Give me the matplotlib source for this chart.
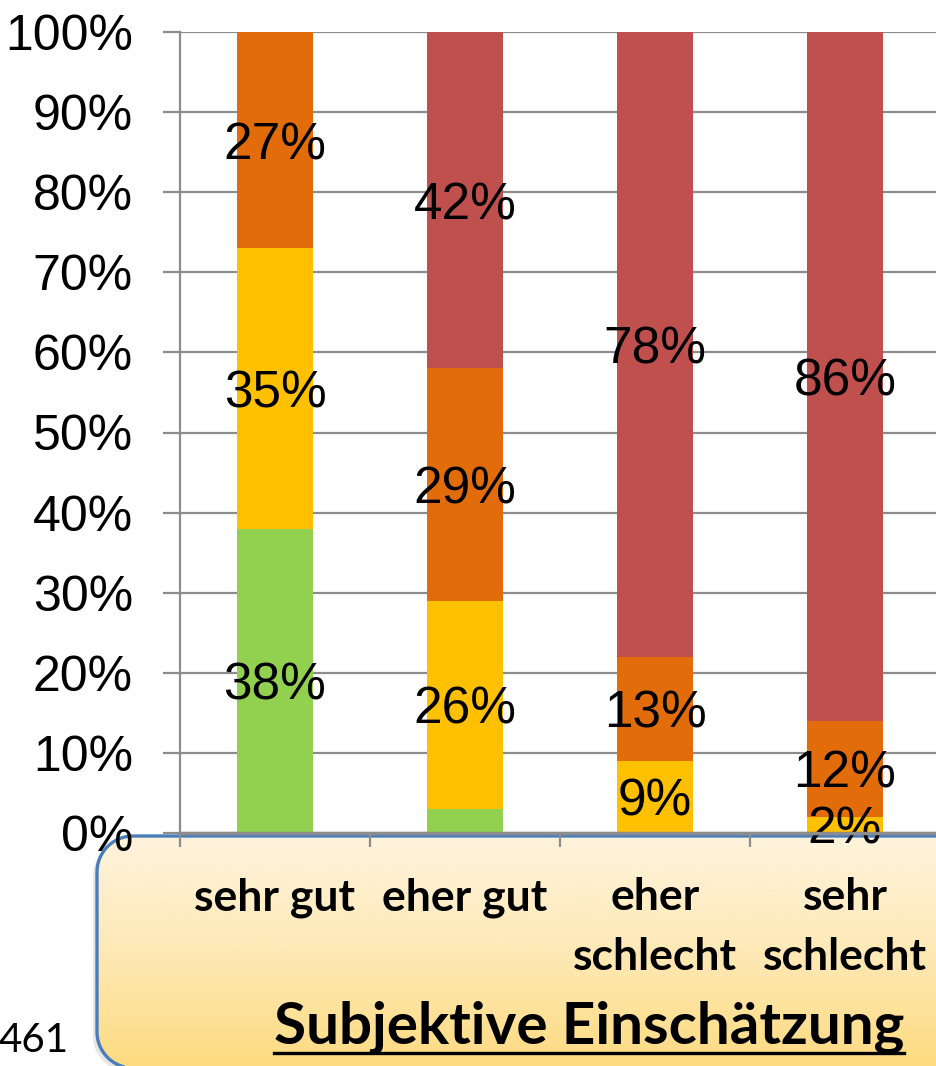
import numpy as np
import matplotlib
matplotlib.use("Agg")
import matplotlib.pyplot as plt
from matplotlib.patches import PathPatch
from matplotlib.path import Path
from matplotlib.colors import LinearSegmentedColormap
from matplotlib.lines import Line2D

categories = ["sehr gut", "eher gut", "eher\nschlecht", "sehr\nschlecht"]
green = [38, 3, 0, 0]
yellow = [35, 26, 9, 2]
orange = [27, 29, 13, 12]
red = [0, 42, 78, 86]
series = [green, yellow, orange, red]
colors = ["#92D050", "#FFC000", "#E36C0A", "#C0504D"]
# which segments carry a value label
show_label = [[True, False, False, False],
              [True, True, True, True],
              [True, True, True, True],
              [False, True, True, True]]
yticks = np.arange(0, 101, 10)
ytick_labels = [f"{v}%" for v in yticks]
title = "Subjektive Einschätzung"
page_no = "461"

W, H = 936, 1066


def rounded_rect(x0, y0, x1, y1, r, n=20):
    # corners in pixel space (y grows downward)
    pts = []
    for cx, cy, a0 in [(x0 + r, y0 + r, 180), (x1 - r, y0 + r, 270),
                       (x1 - r, y1 - r, 0), (x0 + r, y1 - r, 90)]:
        a = np.radians(np.linspace(a0, a0 + 90, n))
        pts += list(zip(cx + r * np.cos(a), cy + r * np.sin(a)))
    pts.append(pts[0])
    codes = [Path.MOVETO] + [Path.LINETO] * (len(pts) - 2) + [Path.CLOSEPOLY]
    return Path(pts, codes)


fig = plt.figure(figsize=(W / 100, H / 100), dpi=100)

# background layer in pixel coordinates for the rounded gradient box
bg = fig.add_axes([0, 0, 1, 1], zorder=0)
bg.set_autoscale_on(False)
bg.set_xlim(0, W)
bg.set_ylim(H, 0)
bg.axis("off")

box = PathPatch(rounded_rect(97, 836, 1050, 1068, 36), facecolor="none",
                edgecolor="#4A7EBB", linewidth=2.4, zorder=3)
shadow = PathPatch(rounded_rect(93, 840, 1046, 1072, 36), facecolor="#cfcfcf",
                   edgecolor="none", alpha=0.5, zorder=1)
bg.add_patch(shadow)
bg.add_patch(box)
cmap = LinearSegmentedColormap.from_list("box", ["#FEF3DD", "#FEE9B6", "#FDDB80"])
grad = np.linspace(0, 1, 256).reshape(-1, 1)
im = bg.imshow(grad, cmap=cmap, aspect="auto", extent=[97, 1050, 1068, 836], zorder=2)
im.set_clip_path(box)
bg.set_xlim(0, W)
bg.set_ylim(H, 0)

t = bg.text(589, 1044, title, fontsize=42, fontweight="bold", family="Lato",
            ha="center", va="baseline", zorder=5)
bg.text(-2, 1040, page_no, fontsize=29, family="Lato", ha="left", va="center", zorder=5)

# main chart
ax = fig.add_axes([180 / W, (H - 833) / H, 760 / W, (833 - 32) / H], zorder=1)
ax.patch.set_alpha(0)
x = np.arange(len(categories))
bottom = np.zeros(len(categories))
for vals, col, show in zip(series, colors, show_label):
    vals = np.array(vals, dtype=float)
    ax.bar(x, vals, 0.395, bottom=bottom, color=col, zorder=2)
    for xi, v, b, s in zip(x, vals, bottom, show):
        if s and v > 0:
            ax.text(xi, b + v / 2, f"{int(v)}%", ha="center", va="center_baseline",
                    fontsize=37, family="Liberation Sans", zorder=4)
    bottom += vals

ax.set_xlim(-0.5, 3.5)
ax.set_ylim(0, 100)
ax.set_yticks(yticks)
ax.set_yticklabels(ytick_labels, family="Liberation Sans", fontsize=36)
ax.yaxis.grid(True, color="#8C8C8C", linewidth=1.6, zorder=0)
ax.tick_params(axis="y", length=12, width=1.6, color="#8C8C8C", pad=22)

ax.set_xticks(np.arange(-0.5, 4, 1))
ax.set_xticklabels([])
ax.tick_params(axis="x", which="major", length=10, width=1.6, color="#8C8C8C")
ax.set_xticks(x, minor=True)
ax.set_xticklabels(categories, minor=True, fontsize=32, fontweight="bold",
                   family="Lato", linespacing=1.6)
ax.tick_params(axis="x", which="minor", length=0, pad=32)

for side in ["top", "right"]:
    ax.spines[side].set_visible(False)
ax.spines["left"].set_color("#8C8C8C")
ax.spines["left"].set_linewidth(1.6)
ax.spines["bottom"].set_color("#8C8C8C")
ax.spines["bottom"].set_linewidth(2.5)
ax.spines["bottom"].set_zorder(5)

# underline the title
fig.canvas.draw()
bb = t.get_window_extent().transformed(bg.transData.inverted())
bg.add_line(Line2D([bb.x0, bb.x1], [1053, 1053], color="black", linewidth=2.4, zorder=5))

fig.savefig("out.png", dpi=100)
